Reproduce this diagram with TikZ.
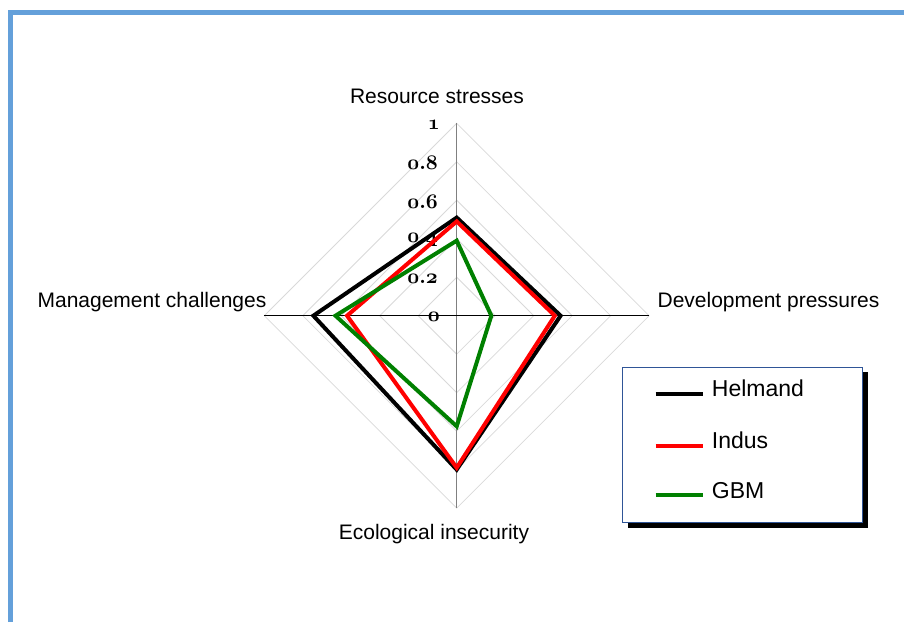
\documentclass[tikz,border=0pt]{standalone}
\usepackage{fontspec}
\newfontfamily\arial{Liberation Sans}
\usetikzlibrary{calc}
\definecolor{framebl}{RGB}{100,160,218}
\definecolor{gridgr}{RGB}{217,217,217}
\definecolor{axisgr}{RGB}{128,128,128}
\definecolor{legbl}{RGB}{47,85,151}
\definecolor{gbmgreen}{RGB}{0,128,0}
\definecolor{indred}{RGB}{255,0,0}
\newcommand\os[1]{$\mathnormal{#1}$}
\newcommand\Rr{192.4}
\newcommand\radarpoly[5]{\draw[series,#1] ($(C)+(0,-#2*\Rr)$) -- ($(C)+(#3*\Rr,0)$) -- ($(C)+(0,#4*\Rr)$) -- ($(C)+(-#5*\Rr,0)$) -- cycle;}
\begin{document}
\begin{tikzpicture}[x=1pt,y=-1pt,
  gridline/.style={draw=gridgr,line width=0.8pt},
  series/.style={line width=4pt,line join=miter},
  axlabel/.style={font=\arial\fontsize{21}{24}\selectfont,anchor=base,inner sep=0pt},
  ticklabel/.style={font=\boldmath\fontsize{22}{25}\selectfont,anchor=east,inner sep=0pt},
  legtext/.style={font=\arial\fontsize{23}{26}\selectfont,anchor=base west,inner sep=0pt},
  legline/.style={line width=4pt}]
\useasboundingbox (0,0) rectangle (904,622);
% frame
\draw[framebl,line width=5pt] (10,622) -- (10,12.5) -- (904,12.5);
\coordinate (C) at (456.7,315.7);
% grid diamonds
\foreach \k in {0.2,0.4,0.6,0.8,1.0}{
  \draw[gridline] ($(C)+(0,-\k*\Rr)$) -- ($(C)+(\k*\Rr,0)$) -- ($(C)+(0,\k*\Rr)$) -- ($(C)+(-\k*\Rr,0)$) -- cycle;
}
% axes
\coordinate (Atop) at ($(C)+(0,-\Rr)$);
\coordinate (Abot) at ($(C)+(0,\Rr)$);
\coordinate (Aleft) at ($(C)+(-\Rr,0)$);
\coordinate (Aright) at ($(C)+(\Rr,0)$);
\draw[axisgr,line width=1.3pt] (Atop) -- (Abot);
\draw[black,line width=1pt] (Aleft) -- (Aright);
% tick labels
\node[ticklabel] (t10) at (440,125) {\os{1}};
\node[ticklabel] (t08) at (438,163) {\os{0.8}};
\node[ticklabel] (t06) at (438,201.5) {\os{0.6}};
\node[ticklabel] (t04) at (438,240) {\os{0.4}};
\node[ticklabel] (t02) at (438,278.5) {\os{0.2}};
\node[ticklabel] (t00) at (440,317) {\os{0}};
% data
\radarpoly{black}{0.51}{0.54}{0.80}{0.745}
\radarpoly{indred}{0.49}{0.51}{0.79}{0.57}
\radarpoly{gbmgreen}{0.39}{0.18}{0.575}{0.63}
% axis labels
\node[axlabel] (lres) at (437,103.5) {Resource stresses};
\node[axlabel] (ldev) at (768.5,307.3) {Development pressures};
\node[axlabel] (lman) at (152,307.3) {Management challenges};
\node[axlabel] (leco) at (434,539) {Ecological insecurity};
% legend
\fill[black] (628.3,372.3) rectangle (868.3,527.7);
\draw[legbl,fill=white,line width=0.9pt] (622.3,367.3) rectangle (862.3,522.7);
\coordinate (h1) at (655.7,394.3); \coordinate (h2) at (702.7,394.3);
\coordinate (i1) at (655.7,446); \coordinate (i2) at (702.7,446);
\coordinate (g1) at (655.7,495); \coordinate (g2) at (702.7,495);
\draw[legline,black] (h1) -- (h2);
\draw[legline,indred] (i1) -- (i2);
\draw[legline,gbmgreen] (g1) -- (g2);
\node[legtext] (lh) at (711.7,396.7) {Helmand};
\node[legtext] (li) at (711.7,448.3) {Indus};
\node[legtext] (lg) at (711.7,498.3) {GBM};
\end{tikzpicture}
\end{document}
